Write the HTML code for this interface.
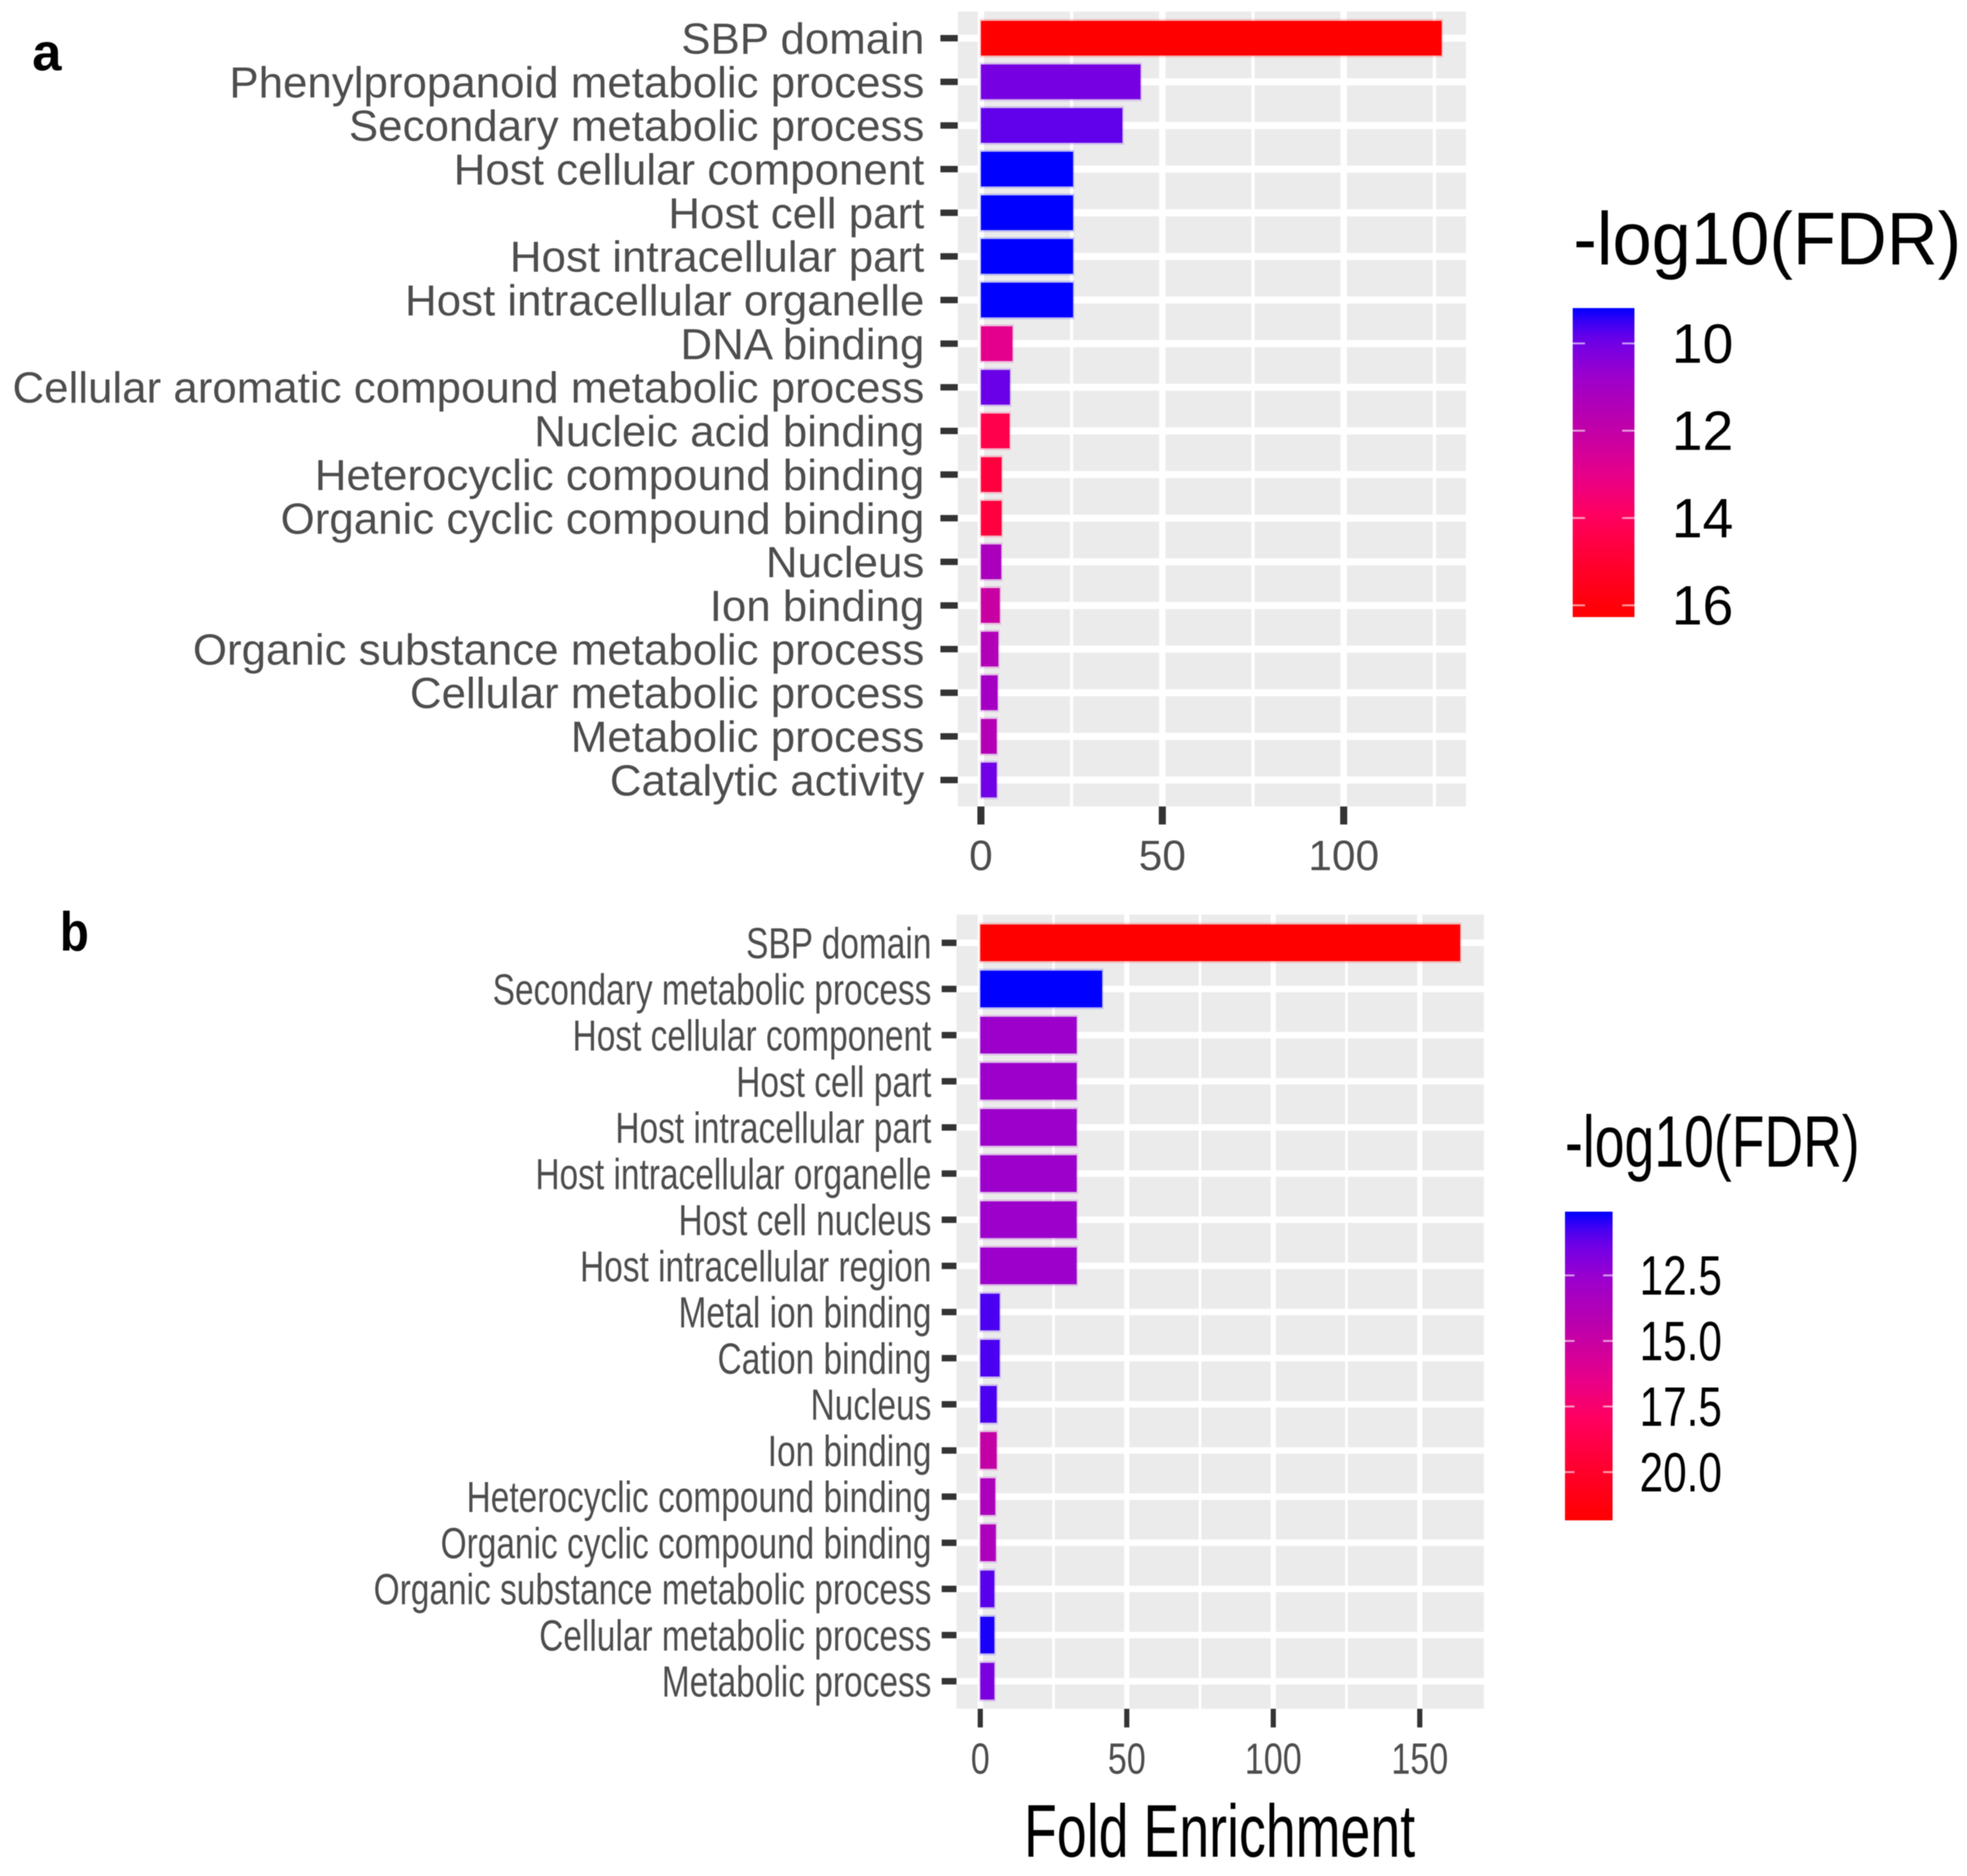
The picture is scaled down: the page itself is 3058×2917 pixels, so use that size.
<!DOCTYPE html>
<html lang="en">
<head>
<meta charset="utf-8">
<title>Fold enrichment charts</title>
<style>
html,body{margin:0;padding:0;background:#fff;width:3058px;height:2917px;overflow:hidden}
svg{display:block;font-family:"Liberation Sans",Arial,sans-serif;filter:blur(0.8px)}
</style>
</head>
<body>
<svg id="chart" xmlns="http://www.w3.org/2000/svg" width="3058" height="2917" viewBox="0 0 3058 2917">
  <defs>
    <linearGradient id="legend-gradient-a" x1="0" y1="0" x2="0" y2="1"></linearGradient>
    <linearGradient id="legend-gradient-b" x1="0" y1="0" x2="0" y2="1"></linearGradient>
  </defs>
  <rect x="0" y="0" width="3058" height="2917" fill="#fff"/>
  <text x="50" y="109" font-size="82" font-weight="700" fill="#000">a</text>
  <text transform="translate(93,1478) scale(0.87,1)" font-size="85" font-weight="700" fill="#000">b</text>
  <g id="panel-a"></g>
  <g id="panel-b"></g>
  <text transform="translate(1592,2887) scale(0.72,1)" font-size="116" fill="#000">Fold Enrichment</text>
</svg>
<script>
// Panel a data
const aCategories = ["SBP domain","Phenylpropanoid metabolic process","Secondary metabolic process","Host cellular component","Host cell part","Host intracellular part","Host intracellular organelle","DNA binding","Cellular aromatic compound metabolic process","Nucleic acid binding","Heterocyclic compound binding","Organic cyclic compound binding","Nucleus","Ion binding","Organic substance metabolic process","Cellular metabolic process","Metabolic process","Catalytic activity"];
const aFold = [127,44,39,25.4,25.4,25.4,25.4,8.7,8,7.9,5.7,5.7,5.6,5.2,4.8,4.6,4.35,4.35];
const aFdr = [16.27,10.1,9.83,9.19,9.19,9.19,9.19,12.94,9.9,14.4,14.7,14.7,11.2,12.2,11.45,11,11.5,9.97];
const aXTicks = [0,50,100];
const aXMinor = [25,75,125];
const aLegendTicks = [10,12,14,16];
const aLegendLabels = ["10","12","14","16"];

// Panel b data
const bCategories = ["SBP domain","Secondary metabolic process","Host cellular component","Host cell part","Host intracellular part","Host intracellular organelle","Host cell nucleus","Host intracellular region","Metal ion binding","Cation binding","Nucleus","Ion binding","Heterocyclic compound binding","Organic cyclic compound binding","Organic substance metabolic process","Cellular metabolic process","Metabolic process"];
const bFold = [163.8,41.6,32.9,32.9,32.9,32.9,32.9,32.9,6.6,6.6,5.6,5.6,5.1,5.3,4.8,4.8,4.8];
const bFdr = [21.84,10.07,12.7,12.7,12.7,12.7,12.7,12.7,10.8,10.8,10.8,14.8,13.6,13.6,11,10.3,11.7];
const bXTicks = [0,50,100,150];
const bXMinor = [25,75,125];
const bLegendTicks = [12.5,15,17.5,20];
const bLegendLabels = ["12.5","15.0","17.5","20.0"];

const NS = "http://www.w3.org/2000/svg";

function make(tag, parent, attrs, text) {
  const node = document.createElementNS(NS, tag);
  for (const key in attrs) node.setAttribute(key, attrs[key]);
  if (text !== undefined) node.textContent = text;
  parent.appendChild(node);
  return node;
}

function hexToRgb(hex) {
  return [parseInt(hex.slice(1,3),16), parseInt(hex.slice(3,5),16), parseInt(hex.slice(5,7),16)];
}

function rampColor(t) {
  const ramp = [[0,"#0000ff"],[0.06,"#4a00f0"],[0.11,"#7000e6"],[0.22,"#9c00cc"],[0.39,"#c000a8"],[0.53,"#e4008c"],[0.67,"#ff0060"],[0.85,"#ff0028"],[1,"#ff0000"]];
  const c = Math.max(0, Math.min(1, t));
  for (let i = 1; i < ramp.length; i++) {
    if (c <= ramp[i][0]) {
      const f = (c - ramp[i-1][0]) / (ramp[i][0] - ramp[i-1][0]);
      const p = hexToRgb(ramp[i-1][1]);
      const q = hexToRgb(ramp[i][1]);
      return "rgb(" + p.map((v, k) => Math.round(v + (q[k] - v) * f)).join(",") + ")";
    }
  }
  return ramp[ramp.length-1][1];
}

function drawPanel(cfg) {
  const root = document.getElementById(cfg.id);
  const xScale = v => cfg.x0 + v * cfg.pxPerUnit;
  const yScale = i => cfg.y0 + i * cfg.rowStep;
  const fdrMin = Math.min.apply(null, cfg.fdr);
  const fdrMax = Math.max.apply(null, cfg.fdr);
  const colorOf = v => rampColor((v - fdrMin) / (fdrMax - fdrMin));

  const bg = make("rect", root, {x:cfg.left, y:cfg.top, width:cfg.right-cfg.left, height:cfg.bottom-cfg.top, fill:"#ebebeb"});
  
  

  cfg.xMinor.forEach(v => {
    const line = make("rect", root, {x:xScale(v)-cfg.minorW/2, y:cfg.top, width:cfg.minorW, height:cfg.bottom-cfg.top, fill:"#fff"});
    
    
  });
  cfg.xTicks.forEach(v => {
    const line = make("rect", root, {x:xScale(v)-cfg.majorW/2, y:cfg.top, width:cfg.majorW, height:cfg.bottom-cfg.top, fill:"#fff"});
    
    
  });
  cfg.categories.forEach((c, i) => {
    const line = make("rect", root, {x:cfg.left, y:yScale(i)-cfg.hGridH/2, width:cfg.right-cfg.left, height:cfg.hGridH, fill:"#fff"});
    
    
  });

  cfg.categories.forEach((c, i) => {
    const halo = make("rect", root, {x:xScale(0)-2, y:yScale(i)-cfg.barH/2-3, width:xScale(cfg.fold[i])-xScale(0)+4, height:cfg.barH+6, fill:colorOf(cfg.fdr[i]), opacity:0.18});
    
    
    const bar = make("rect", root, {x:xScale(0), y:yScale(i)-cfg.barH/2, width:xScale(cfg.fold[i])-xScale(0), height:cfg.barH, fill:colorOf(cfg.fdr[i])});
    
    
    const tick = make("rect", root, {x:cfg.left-cfg.yTickLen, y:yScale(i)-5, width:cfg.yTickLen, height:10, fill:"#333"});
    
    
    const label = make("text", root, {transform:"translate(" + cfg.labelRight + "," + (yScale(i)+24) + ") scale(" + cfg.labelSx + ",1)", "text-anchor":"end", "font-size":68, fill:"#4d4d4d"}, c);
    
    
  });

  cfg.xTicks.forEach(v => {
    const tick = make("rect", root, {x:xScale(v)-cfg.xTickW/2, y:cfg.bottom, width:cfg.xTickW, height:cfg.xTickLen, fill:"#333"});
    
    
    const label = make("text", root, {transform:"translate(" + xScale(v) + "," + cfg.xLabelY + ") scale(" + cfg.xLabelSx + ",1)", "text-anchor":"middle", "font-size":cfg.xLabelSize, fill:"#4d4d4d"}, String(v));
    
    
  });

  const title = make("text", root, {transform:"translate(" + cfg.titleX + "," + cfg.titleY + ") scale(" + cfg.titleSx + ",1)", "font-size":cfg.titleSize, fill:"#000"}, "-log10(FDR)");
  
  

  const gradient = document.getElementById(cfg.gradientId);
  for (let k = 0; k <= 40; k++) {
    make("stop", gradient, {offset:(k/40), "stop-color":rampColor(k/40)});
  }
  const colorbar = make("rect", root, {x:cfg.legX, y:cfg.legTop, width:cfg.legW, height:cfg.legBottom-cfg.legTop, fill:"url(#" + cfg.gradientId + ")"});
  
  

  const legY = v => cfg.legTop + (v - fdrMin) / (fdrMax - fdrMin) * (cfg.legBottom - cfg.legTop);
  cfg.legendTicks.forEach((v, i) => {
    const left = make("rect", root, {x:cfg.legX, y:legY(v)-1.5, width:cfg.legW*0.2, height:3, fill:"#fff", opacity:0.6});
    
    
    const right = make("rect", root, {x:cfg.legX+cfg.legW*0.8, y:legY(v)-1.5, width:cfg.legW*0.2, height:3, fill:"#fff", opacity:0.6});
    
    
    const label = make("text", root, {transform:"translate(" + cfg.legLabelX + "," + (legY(v)+30) + ") scale(" + cfg.legLabelSx + ",1)", "font-size":86, fill:"#000"}, cfg.legendLabels[i]);
    
    
  });
}

drawPanel({
  id:"panel-a", gradientId:"legend-gradient-a",
  categories:aCategories, fold:aFold, fdr:aFdr, xTicks:aXTicks, xMinor:aXMinor,
  legendTicks:aLegendTicks, legendLabels:aLegendLabels,
  left:1489, right:2279, top:18, bottom:1254, x0:1525, pxPerUnit:5.64,
  y0:59.4, rowStep:67.85, barH:54, majorW:10, minorW:5, hGridH:11,
  yTickLen:27, labelRight:1437, labelSx:1.003,
  xTickW:11, xTickLen:28, xLabelY:1353, xLabelSize:66, xLabelSx:1,
  titleX:2446, titleY:411, titleSize:116, titleSx:0.945,
  legX:2445, legW:96, legTop:479, legBottom:959.5, legLabelX:2599, legLabelSx:1
});

drawPanel({
  id:"panel-b", gradientId:"legend-gradient-b",
  categories:bCategories, fold:bFold, fdr:bFdr, xTicks:bXTicks, xMinor:bXMinor,
  legendTicks:bLegendTicks, legendLabels:bLegendLabels,
  left:1487, right:2307, top:1422, bottom:2657, x0:1524, pxPerUnit:4.555,
  y0:1466, rowStep:71.76, barH:57, majorW:8, minorW:4, hGridH:10,
  yTickLen:23, labelRight:1448, labelSx:0.765,
  xTickW:8, xTickLen:29, xLabelY:2758, xLabelSize:68, xLabelSx:0.78,
  titleX:2433, titleY:1814, titleSize:113, titleSx:0.737,
  legX:2433, legW:74, legTop:1884, legBottom:2364, legLabelX:2549, legLabelSx:0.765
});
</script>
</body>
</html>
